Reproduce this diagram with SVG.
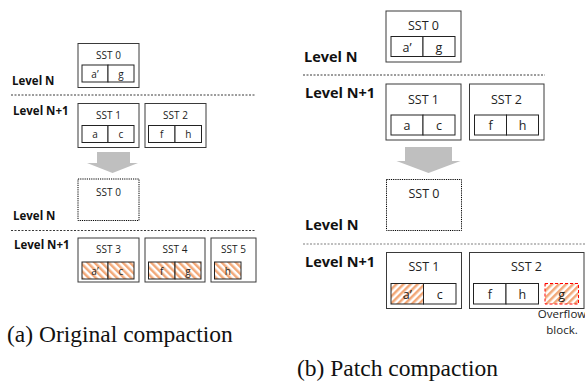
<svg xmlns="http://www.w3.org/2000/svg" width="585" height="381" viewBox="0 0 585 381">
<defs>
<pattern id="hatchDown" patternUnits="userSpaceOnUse" width="5" height="5" patternTransform="rotate(-45)"><rect width="5" height="5" fill="#ffffff"/><rect width="2.5" height="5" fill="#f2a878"/></pattern>
<pattern id="hatchUp" patternUnits="userSpaceOnUse" width="5" height="5" patternTransform="rotate(45)"><rect width="5" height="5" fill="#ffffff"/><rect width="2.5" height="5" fill="#f2a878"/></pattern>
<style>
.box{fill:#ffffff;stroke:#3a3a3a;stroke-width:1}
.dbox{fill:#ffffff;stroke:#000;stroke-width:1;stroke-dasharray:1.2 1}
.cell{fill:#ffffff;stroke:#222;stroke-width:1}
.hcd{fill:url(#hatchDown);stroke:#222;stroke-width:1}
.hcu{fill:url(#hatchUp);stroke:#222;stroke-width:1}
.ovf{fill:url(#hatchUp);stroke:#ff0000;stroke-width:1;stroke-dasharray:3 2}
.sep{stroke:#3a3a3a;stroke-width:1;stroke-dasharray:2 1.5;fill:none}
.sepg{stroke:#7f7f7f;stroke-width:1.2;stroke-dasharray:2 1.5;fill:none}
.arrow{fill:#bfbfbf;stroke:none}
.t{font-family:"Open Sans","Noto Sans","Liberation Sans",sans-serif;fill:#222;text-anchor:middle}
.ts{font-size:10px}
.tb{font-size:12.5px}
.lv{font-family:"Open Sans","Noto Sans","Liberation Sans",sans-serif;font-weight:700;fill:#111}
.lvs{font-size:11.5px}
.lvb{font-size:14.5px}
.cap{font-family:"Liberation Serif","Times New Roman",serif;font-size:23.5px;fill:#111}
</style>
</defs>
<rect width="585" height="381" fill="#ffffff"/>

<!-- (a) Original compaction -->
<text class="lv lvs" x="12" y="85">Level N</text>
<line class="sep" x1="11" y1="95" x2="256" y2="95"/>
<text class="lv lvs" x="13" y="115">Level N+1</text>

<g id="a-sst0-top">
<rect class="box" x="78" y="43.5" width="61" height="44"/>
<text class="t ts" x="108.5" y="58.5">SST 0</text>
<rect class="cell" x="82" y="65" width="26" height="17"/>
<rect class="cell" x="108" y="65" width="26" height="17"/>
<text class="t ts" x="95" y="77.5">a’</text>
<text class="t ts" x="121" y="77.5">g</text>
</g>
<g id="a-sst1-top">
<rect class="box" x="78" y="103.5" width="61" height="44"/>
<text class="t ts" x="108.5" y="118.5">SST 1</text>
<rect class="cell" x="82" y="125.5" width="26" height="17"/>
<rect class="cell" x="108" y="125.5" width="26" height="17"/>
<text class="t ts" x="95" y="138">a</text>
<text class="t ts" x="121" y="138">c</text>
</g>
<g id="a-sst2-top">
<rect class="box" x="145" y="103.5" width="61" height="44"/>
<text class="t ts" x="175.5" y="118.5">SST 2</text>
<rect class="cell" x="148.5" y="125.5" width="26.5" height="17"/>
<rect class="cell" x="175" y="125.5" width="26.5" height="17"/>
<text class="t ts" x="161.75" y="138">f</text>
<text class="t ts" x="188.25" y="138">h</text>
</g>

<text class="lv lvs" x="13" y="220">Level N</text>
<line class="sep" x1="11" y1="230.5" x2="256" y2="230.5"/>
<text class="lv lvs" x="14" y="249">Level N+1</text>

<g id="a-sst0-bottom">
<rect class="dbox" x="78" y="179" width="61" height="41.5"/>
<text class="t ts" x="108.5" y="195.5">SST 0</text>
</g>
<g id="a-sst3">
<rect class="box" x="78" y="238" width="61" height="44"/>
<text class="t ts" x="108.5" y="253">SST 3</text>
<rect class="hcd" x="82" y="262" width="26" height="17"/>
<rect class="hcd" x="108" y="262" width="26" height="17"/>
<text class="t ts" x="95" y="274.5">a’</text>
<text class="t ts" x="121" y="274.5">c</text>
</g>
<g id="a-sst4">
<rect class="box" x="145" y="238" width="60" height="44"/>
<text class="t ts" x="175" y="253">SST 4</text>
<rect class="hcd" x="148.5" y="262" width="26.5" height="17"/>
<rect class="hcd" x="175" y="262" width="26" height="17"/>
<text class="t ts" x="161.75" y="274.5">f</text>
<text class="t ts" x="188" y="274.5">g</text>
</g>
<g id="a-sst5">
<rect class="box" x="211" y="238" width="45" height="44"/>
<text class="t ts" x="233.5" y="253">SST 5</text>
<rect class="hcd" x="214.5" y="262" width="26.5" height="17"/>
<text class="t ts" x="227.75" y="274.5">h</text>
</g>

<!-- (b) Patch compaction -->
<text class="lv lvb" x="304" y="62">Level N</text>
<line class="sep" x1="303" y1="75" x2="545" y2="75"/>
<text class="lv lvb" x="305" y="98">Level N+1</text>

<g id="b-sst0-top">
<rect class="box" x="386" y="11" width="75" height="51"/>
<text class="t tb" x="423.5" y="29.5">SST 0</text>
<rect class="cell" x="391" y="36.5" width="32" height="20"/>
<rect class="cell" x="423" y="36.5" width="32" height="20"/>
<text class="t tb" x="407" y="51.5">a’</text>
<text class="t tb" x="439" y="51.5">g</text>
</g>
<g id="b-sst1-top">
<rect class="box" x="386" y="84" width="75" height="56"/>
<text class="t tb" x="423.5" y="104">SST 1</text>
<rect class="cell" x="391" y="115" width="32" height="20"/>
<rect class="cell" x="423" y="115" width="32" height="20"/>
<text class="t tb" x="407" y="130">a</text>
<text class="t tb" x="439" y="130">c</text>
</g>
<g id="b-sst2-top">
<rect class="box" x="469.5" y="84" width="74.5" height="56"/>
<text class="t tb" x="506.5" y="104">SST 2</text>
<rect class="cell" x="474.5" y="115" width="32" height="20"/>
<rect class="cell" x="506.5" y="115" width="32" height="20"/>
<text class="t tb" x="490.5" y="130">f</text>
<text class="t tb" x="522.5" y="130">h</text>
</g>

<text class="lv lvb" x="305" y="230">Level N</text>
<line class="sepg" x1="303" y1="244" x2="585" y2="244"/>
<text class="lv lvb" x="305" y="267">Level N+1</text>

<g id="b-sst0-bottom">
<rect class="dbox" x="386.5" y="179.5" width="75" height="51"/>
<text class="t tb" x="424" y="197.5">SST 0</text>
</g>
<g id="b-sst1-bottom">
<rect class="box" x="386.5" y="252.5" width="75" height="56"/>
<text class="t tb" x="424" y="271">SST 1</text>
<rect class="hcu" x="391" y="283.5" width="32.5" height="20.5"/>
<rect class="cell" x="423.5" y="283.5" width="32.5" height="20.5"/>
<text class="t tb" x="407.25" y="299">a’</text>
<text class="t tb" x="439.75" y="299">c</text>
</g>
<g id="b-sst2-bottom">
<rect class="box" x="469.5" y="252.5" width="114.5" height="56"/>
<text class="t tb" x="526.5" y="271">SST 2</text>
<rect class="cell" x="473.5" y="283.5" width="32.5" height="20.5"/>
<rect class="cell" x="506" y="283.5" width="32.5" height="20.5"/>
<text class="t tb" x="489.75" y="299">f</text>
<text class="t tb" x="522.25" y="299">h</text>
<rect class="ovf" x="545" y="283.5" width="33.5" height="20.5"/>
<text class="t tb" x="561.75" y="299">g</text>
</g>
<g id="b-overflow-label">
<text class="t" style="font-size:11.5px" x="562" y="318">Overflow</text>
<text class="t" style="font-size:11.5px" x="562" y="334">block.</text>
</g>

<g id="connectors">
<polygon class="arrow" points="97,152 130,152 130,163 138,163 112.5,173 87,163 97,163"/>
<polygon class="arrow" points="405,147 452,147 452,161 460.5,161 428.5,173 396.5,161 405,161"/>
</g>

<text class="cap" x="7" y="341.5">(a) Original compaction</text>
<text class="cap" x="297" y="376">(b) Patch compaction</text>
</svg>
